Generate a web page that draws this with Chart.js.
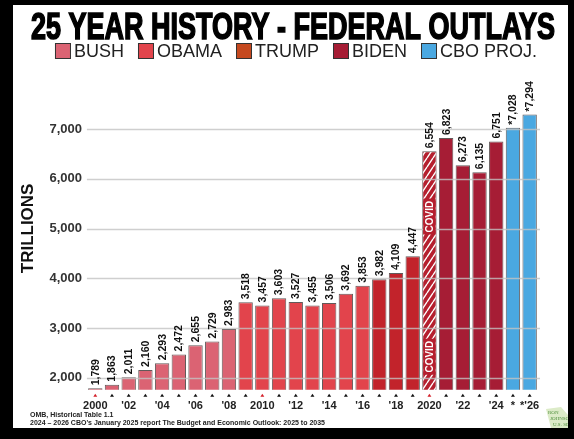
<!DOCTYPE html>
<html>
<head>
<meta charset="utf-8">
<script src="https://cdn.jsdelivr.net/npm/chart.js@4.4.1/dist/chart.umd.min.js"></script>
<style>
  html, body { margin: 0; padding: 0; background: #000; }
  body { width: 574px; height: 439px; position: relative; overflow: hidden; }
  .panel { position: absolute; left: 13px; top: 5px; width: 555px; height: 423px; background: #fff; }
  canvas { display: block; }
</style>
</head>
<body>
<div class="panel"><canvas id="outlays" width="555" height="423"></canvas></div>
<script>
// Fiscal years on the x axis and their tick text
const years = [2000, 2001, 2002, 2003, 2004, 2005, 2006, 2007, 2008, 2009, 2010, 2011, 2012, 2013,
  2014, 2015, 2016, 2017, 2018, 2019, 2020, 2021, 2022, 2023, 2024, 2025, 2026];
const yearTicks = ['2000', '', "'02", '', "'04", '', "'06", '', "'08", '', '2010', '', "'12", '', "'14",
  '', "'16", '', "'18", '', '2020', '', "'22", '', "'24", '*', "*'26"];

// Outlays in billions, one array per administration
const bush = [1789, 1863, 2011, 2160, 2293, 2472, 2655, 2729, 2983];
const obama = [3518, 3457, 3603, 3527, 3455, 3506, 3692, 3853];
const trump = [3982, 4109, 4447, 6554];
const biden = [6823, 6273, 6135, 6751];
const cboProj = [7028, 7294];

const seriesNames = ['BUSH', 'OBAMA', 'TRUMP', 'BIDEN', 'CBO PROJ.'];
const yTicks = [2000, 3000, 4000, 5000, 6000, 7000];
const markerYears = [2000, 2010, 2020];
const covidYear = 2020;

const FONT = '"Liberation Sans", Arial, sans-serif';
const barColors = ['#db6373', '#e2444c', '#c2232b', '#a61d35', '#4aa8e1'];
const keyColors = ['#db6373', '#e2444c', '#c5491f', '#a61d35', '#4aa8e1'];

const canvas = document.getElementById('outlays');
const ctx = canvas.getContext('2d');

// spread each term over the full year axis, null outside it
function spread(values, start) {
  const out = years.map(() => null);
  values.forEach((v, i) => { out[start + i] = v; });
  return out;
}

function hatch(base) {
  const tile = document.createElement('canvas');
  tile.width = 6; tile.height = 9;
  const g = tile.getContext('2d');
  g.fillStyle = base;
  g.fillRect(0, 0, 6, 9);
  g.strokeStyle = '#fff';
  g.lineWidth = 1.4;
  g.beginPath();
  g.moveTo(-6, 9); g.lineTo(0, 0);
  g.moveTo(0, 9); g.lineTo(6, 0);
  g.moveTo(6, 9); g.lineTo(12, 0);
  g.stroke();
  return ctx.createPattern(tile, 'repeat');
}
const covidFill = hatch('#b51f2e');

const terms = [bush, obama, trump, biden, cboProj];
let offset = 0;
const datasets = terms.map((values, i) => {
  const ds = {
    label: seriesNames[i],
    data: spread(values, offset),
    backgroundColor: barColors[i],
    borderColor: 'rgba(70,60,60,0.85)',
    borderWidth: 1,
    barPercentage: 0.86,
    categoryPercentage: 1
  };
  offset += values.length;
  return ds;
});
datasets[2].backgroundColor = c => years[c.dataIndex] === covidYear ? covidFill : barColors[2];

// headline, key, footnotes
const decorations = {
  id: 'decorations',
  afterDraw(chart) {
    const c = chart.ctx;
    c.save();
    // headline, squeezed horizontally
    const headline = '25 YEAR HISTORY - FEDERAL OUTLAYS';
    c.font = `bold 37px ${FONT}`;
    const w = c.measureText(headline).width;
    const target = 524;
    c.translate(280, 34);
    c.scale(target / w, 1);
    c.fillStyle = '#000';
    c.strokeStyle = '#000';
    c.lineWidth = 1.6;
    c.textAlign = 'center';
    c.textBaseline = 'alphabetic';
    c.strokeText(headline, 0, 0);
    c.fillText(headline, 0, 0);
    c.restore();

    // key
    c.save();
    c.font = `18px ${FONT}`;
    const box = 16, gapIn = 3, gapOut = 14;
    const widths = seriesNames.map(n => box + gapIn + c.measureText(n).width);
    const total = widths.reduce((a, b) => a + b, 0) + gapOut * (widths.length - 1);
    let x = 283 - total / 2;
    const cy = 46;
    c.textBaseline = 'middle';
    seriesNames.forEach((n, i) => {
      c.fillStyle = keyColors[i];
      c.fillRect(x, cy - box / 2, box, box);
      c.strokeStyle = '#333';
      c.lineWidth = 1;
      c.strokeRect(x + 0.5, cy - box / 2 + 0.5, box - 1, box - 1);
      c.fillStyle = '#222';
      c.fillText(n, x + box + gapIn, cy + 1);
      x += widths[i] + gapOut;
    });
    c.restore();

    // year markers under the bars
    c.save();
    const xs = chart.scales.x;
    const base = chart.chartArea.bottom + 4;
    years.forEach((yr, i) => {
      const px = xs.getPixelForValue(i);
      c.fillStyle = markerYears.includes(yr) ? '#d4202a' : '#111';
      c.beginPath();
      c.moveTo(px - 2, base + 3);
      c.lineTo(px + 2, base + 3);
      c.lineTo(px, base);
      c.closePath();
      c.fill();
    });
    c.restore();

    // footnotes
    c.save();
    c.font = `bold 7px ${FONT}`;
    c.fillStyle = '#222';
    c.textBaseline = 'alphabetic';
    c.fillText('OMB, Historical Table 1.1', 17, 412);
    c.fillText("2024 \u2013 2026 CBO's January 2025 report The Budget and Economic Outlook: 2025 to 2035", 17, 420);
    // senator mark
    c.fillStyle = '#dcebc8';
    c.beginPath();
    c.moveTo(533, 404); c.lineTo(548, 402); c.lineTo(555, 410); c.lineTo(555, 423); c.lineTo(538, 423); c.closePath();
    c.fill();
    c.fillStyle = '#4f8f3c';
    c.font = `5px "Liberation Serif", serif`;
    c.fillText('RON', 535, 409);
    c.fillText('JOHNSON', 537, 415);
    c.fillText('U.S. SENATOR', 540, 421);
    c.restore();
  }
};

// grid lines over the bars, then values and the COVID tag
const barOverlays = {
  id: 'barOverlays',
  afterDatasetsDraw(chart) {
    const c = chart.ctx;
    const area = chart.chartArea;
    const ys = chart.scales.y;
    c.save();
    c.strokeStyle = 'rgba(195,195,195,0.8)';
    c.lineWidth = 1.5;
    yTicks.forEach(v => {
      const py = Math.round(ys.getPixelForValue(v)) + 0.5;
      c.beginPath();
      c.moveTo(area.left, py);
      c.lineTo(area.right + 2, py);
      c.stroke();
    });
    c.restore();

    c.save();
    c.font = `bold 10.5px ${FONT}`;
    c.fillStyle = '#111';
    c.textAlign = 'left';
    c.textBaseline = 'middle';
    chart.data.datasets.forEach((ds, di) => {
      chart.getDatasetMeta(di).data.forEach((bar, i) => {
        const v = ds.data[i];
        if (v == null) return;
        const text = (di === 4 ? '*' : '') + v.toLocaleString('en-US');
        c.save();
        c.translate(bar.x + 0.5, bar.y - 3);
        c.rotate(-Math.PI / 2);
        c.fillText(text, 0, 0);
        c.restore();
      });
    });
    c.restore();

    const ci = years.indexOf(covidYear);
    const bar = chart.getDatasetMeta(2).data[ci];
    c.save();
    c.font = `bold 10px ${FONT}`;
    c.textAlign = 'center';
    c.textBaseline = 'middle';
    [0.2, 0.63].forEach(f => {
      const py = bar.y + (bar.base - bar.y) * f;
      c.fillStyle = '#b51f2e';
      c.fillRect(bar.x - bar.width / 2 + 1, py - 18, bar.width - 2, 36);
      c.save();
      c.translate(bar.x + 0.5, py);
      c.rotate(-Math.PI / 2);
      c.fillStyle = '#fff';
      c.fillText('COVID', 0, 0);
      c.restore();
    });
    c.restore();
  }
};

new Chart(ctx, {
  type: 'bar',
  data: { labels: years.map(String), datasets },
  options: {
    responsive: false,
    animation: false,
    layout: { padding: { top: 62, left: 5, right: 30, bottom: 5 } },
    plugins: {
      legend: { display: false },
      tooltip: { enabled: false }
    },
    scales: {
      x: {
        stacked: true,
        grid: { display: false, drawTicks: false },
        border: { display: false },
        ticks: {
          autoSkip: false,
          maxRotation: 0,
          padding: 10,
          color: '#222',
          font: { family: FONT, size: 11, weight: 'bold' },
          callback: (v, i) => yearTicks[i]
        }
      },
      y: {
        min: 1760,
        max: 8250,
        afterBuildTicks: s => { s.ticks = yTicks.map(v => ({ value: v })); },
        grid: { drawOnChartArea: false, drawTicks: false },
        border: { display: false },
        ticks: {
          padding: 5,
          color: '#333',
          font: { family: FONT, size: 13, weight: 'bold' },
          callback: v => v.toLocaleString('en-US')
        },
        title: {
          display: true,
          text: 'TRILLIONS',
          color: '#111',
          font: { family: FONT, size: 17, weight: 'bold' },
          padding: { top: 0, bottom: 6 }
        }
      }
    }
  },
  plugins: [barOverlays, decorations]
});
</script>
</body>
</html>
